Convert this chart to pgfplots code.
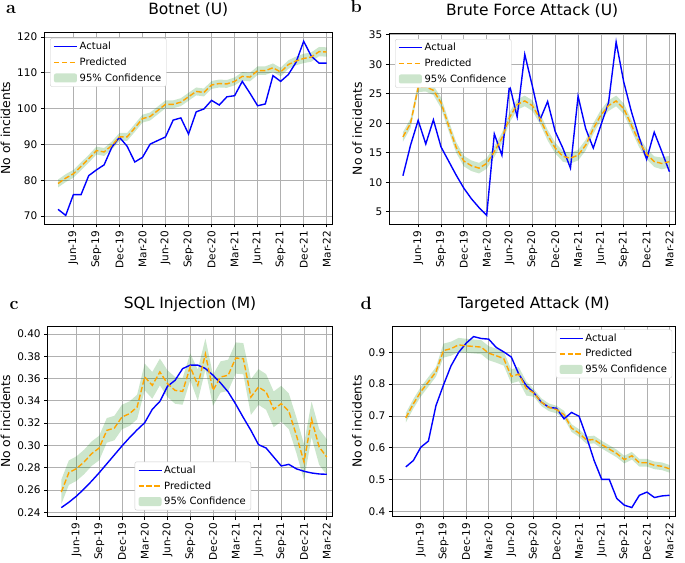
\documentclass[border=0pt]{standalone}
\usepackage{fontspec}
\setsansfont{DejaVu Sans}
\usepackage{pgfplots}
\usepackage{pgfplotstable}
\pgfplotsset{compat=1.18}
\usepgfplotslibrary{fillbetween}

\definecolor{mblue}{RGB}{0,0,255}
\definecolor{morange}{RGB}{255,165,0}
\definecolor{mgreen}{RGB}{0,128,0}
\definecolor{gridgray}{RGB}{176,176,176}
\definecolor{legendgray}{RGB}{204,204,204}

% columns: month index (0 = Apr-19), actual, predicted, half width of 95% band
\pgfplotstableread{
i act pred w
0 71.9 79.1 1.1
1 70.2 80.6 1.1
2 76.0 81.8 1.1
3 76.0 83.9 1.1
4 81.3 86.0 1.1
5 82.9 88.3 1.1
6 84.3 87.9 1.1
7 89.2 89.7 1.1
8 92.0 92.1 1.1
9 89.5 92.1 1.1
10 85.1 94.6 1.1
11 86.4 97.2 1.1
12 90.1 97.8 1.1
13 91.1 99.5 1.1
14 92.1 101.2 1.1
15 96.8 101.2 1.1
16 97.4 101.8 1.1
17 92.9 103.3 1.1
18 99.1 104.8 1.1
19 99.9 104.5 1.1
20 102.3 106.6 1.1
21 101.0 107.0 1.1
22 103.3 106.9 1.1
23 103.6 107.6 1.1
24 107.6 109.0 1.2
25 104.3 108.8 1.2
26 100.8 110.6 1.2
27 101.3 110.6 1.2
28 109.2 111.4 1.2
29 107.6 110.2 1.2
30 109.5 112.3 1.2
31 112.9 113.3 1.2
32 118.8 114.0 1.3
33 114.6 114.4 1.3
34 112.7 115.9 1.3
35 112.7 115.8 1.3
}\dataA

\pgfplotstableread{
i act pred w
0 11.1 17.7 0.8
1 16.3 20.0 0.8
2 20.5 26.1 0.8
3 16.5 26.2 0.8
4 20.6 25.6 0.8
5 16.0 23.5 0.9
6 13.6 19.6 0.9
7 11.2 15.9 0.9
8 9.0 13.6 0.9
9 7.2 12.8 0.9
10 5.7 12.4 0.9
11 4.4 13.2 0.9
12 18.2 15.2 0.9
13 14.6 17.5 0.9
14 26.5 21.0 0.9
15 21.1 23.2 0.9
16 31.7 23.8 0.9
17 26.3 23.0 0.9
18 20.6 20.8 0.9
19 23.7 18.0 0.9
20 18.6 15.8 0.9
21 15.8 14.4 0.9
22 12.4 14.1 0.9
23 24.6 14.6 0.9
24 19.1 16.3 0.9
25 15.8 19.1 0.9
26 19.7 21.4 0.9
27 23.5 23.0 0.9
28 33.8 23.8 0.9
29 27.0 22.5 0.9
30 22.0 19.7 0.9
31 17.7 16.9 0.9
32 13.9 14.8 0.9
33 18.5 13.5 0.9
34 15.2 13.2 1.0
35 11.8 13.5 1.0
}\dataB

\pgfplotstableread{
i act pred w
0 0.2442 0.2582 0.011
1 0.2490 0.2756 0.011
2 0.2545 0.2792 0.011
3 0.2610 0.2851 0.011
4 0.2680 0.2926 0.011
5 0.2755 0.2977 0.011
6 0.2835 0.3135 0.011
7 0.2915 0.3156 0.011
8 0.2995 0.3255 0.011
9 0.3070 0.3285 0.011
10 0.3140 0.3345 0.011
11 0.3204 0.3614 0.012
12 0.3324 0.3539 0.012
13 0.3395 0.3659 0.012
14 0.3530 0.3554 0.012
15 0.3584 0.3494 0.012
16 0.3689 0.3485 0.012
17 0.3720 0.3705 0.012
18 0.3720 0.3540 0.014
19 0.3690 0.3820 0.014
20 0.3630 0.3494 0.014
21 0.3560 0.3614 0.014
22 0.3480 0.3629 0.014
23 0.3370 0.3784 0.014
24 0.3250 0.3778 0.014
25 0.3135 0.3434 0.016
26 0.3007 0.3524 0.016
27 0.2977 0.3480 0.016
28 0.2896 0.3324 0.016
29 0.2816 0.3375 0.016
30 0.2830 0.3306 0.016
31 0.2790 0.3090 0.016
32 0.2768 0.2851 0.016
33 0.2753 0.3234 0.016
34 0.2744 0.2986 0.016
35 0.2741 0.2896 0.016
}\dataC

\pgfplotstableread{
i act pred w
0 0.540 0.694 0.015
1 0.560 0.738 0.015
2 0.602 0.776 0.015
3 0.621 0.807 0.015
4 0.732 0.838 0.015
5 0.797 0.905 0.022
6 0.857 0.911 0.022
7 0.899 0.923 0.022
8 0.928 0.920 0.022
9 0.949 0.918 0.022
10 0.943 0.916 0.022
11 0.941 0.897 0.022
12 0.915 0.889 0.022
13 0.901 0.880 0.022
14 0.885 0.824 0.022
15 0.831 0.831 0.022
16 0.795 0.786 0.022
17 0.773 0.772 0.012
18 0.743 0.743 0.012
19 0.727 0.727 0.012
20 0.724 0.720 0.012
21 0.691 0.704 0.012
22 0.711 0.662 0.012
23 0.699 0.646 0.012
24 0.633 0.624 0.012
25 0.560 0.626 0.012
26 0.501 0.610 0.012
27 0.501 0.596 0.012
28 0.441 0.582 0.012
29 0.420 0.563 0.012
30 0.4125 0.575 0.012
31 0.451 0.553 0.012
32 0.461 0.553 0.012
33 0.444 0.545 0.012
34 0.449 0.542 0.012
35 0.451 0.534 0.012
}\dataD

\pgfplotsset{
  panel/.style={
    scale only axis, anchor=south west,
    xmin=-1.79, xmax=35.73,
    xtick={2,5,...,35},
    xticklabels={Jun-19,Sep-19,Dec-19,Mar-20,Jun-20,Sep-20,Dec-20,Mar-21,Jun-21,Sep-21,Dec-21,Mar-22},
    x tick label style={rotate=90, anchor=east},
    tick label style={font=\sffamily\fontsize{10.5}{12}\selectfont},
    label style={font=\sffamily\fontsize{12.4}{14}\selectfont},
    ylabel={No of incidents},
    title style={font=\sffamily\fontsize{15.5}{18}\selectfont, at={(0.5,1)}, anchor=base, yshift=12pt},
    grid=major,
    major grid style={line width=0.8pt, color=gridgray},
    axis line style={line width=0.8pt},
    tick style={line width=0.8pt, black},
    tick align=outside, major tick length=3.5pt,
    xtick pos=left, ytick pos=left,
    /pgf/number format/assume math mode=true,
    legend cell align=left,
    legend style={font=\sffamily\fontsize{10}{12}\selectfont, draw=legendgray,
      rounded corners=2pt, fill=white, text opacity=1,
      inner xsep=3pt, inner ysep=2pt, row sep=2.5pt},
  },
  act/.style={color=mblue, line width=1.4pt, no markers},
  pre/.style={color=morange, line width=1.4pt, dash pattern=on 5.5pt off 2.4pt, no markers},
}

% explicit legend images: line for actual, dashed line for predicted, patch for the band
\newcommand{\legendentries}{%
  \addlegendimage{legend image code/.code={\draw[mblue, line width=1.4pt] (0pt,0pt) -- (23pt,0pt);}}
  \addlegendentry{Actual}
  \addlegendimage{legend image code/.code={\draw[morange, line width=1.4pt, dash pattern=on 5.5pt off 2.4pt] (0pt,0pt) -- (23pt,0pt);}}
  \addlegendentry{Predicted}
  \addlegendimage{legend image code/.code={\path[draw=none, fill=mgreen, fill opacity=0.2] (0pt,-4.5pt) rectangle (23pt,4.5pt);}}
  \addlegendentry{95\% Confidence}}

\begin{document}
\begin{tikzpicture}

% a
\begin{axis}[panel, at={(44.3pt,338pt)}, width=288pt, height=191.7pt,
  ymin=67.8, ymax=121.3, ytick={70,80,90,100,110,120},
  title={Botnet (U)},
  legend style={at={(0.02,0.97)}, anchor=north west}]
\addplot[draw=none, name path=hiA, forget plot] table[x=i, y expr=\thisrow{pred}+\thisrow{w}] {\dataA};
\addplot[draw=none, name path=loA, forget plot] table[x=i, y expr=\thisrow{pred}-\thisrow{w}] {\dataA};
\addplot[fill=mgreen, fill opacity=0.2, draw=none, forget plot] fill between[of=hiA and loA];
\addplot[act, forget plot] table[x=i, y=act] {\dataA};
\addplot[pre, forget plot] table[x=i, y=pred] {\dataA};
\legendentries
\end{axis}

% b
\begin{axis}[panel, at={(389.3pt,338pt)}, width=285.7pt, height=190.7pt,
  ymin=2.93, ymax=35.27, ytick={5,10,15,20,25,30,35},
  title={Brute Force Attack (U)},
  legend style={at={(0.02,0.97)}, anchor=north west}]
\addplot[draw=none, name path=hiB, forget plot] table[x=i, y expr=\thisrow{pred}+\thisrow{w}] {\dataB};
\addplot[draw=none, name path=loB, forget plot] table[x=i, y expr=\thisrow{pred}-\thisrow{w}] {\dataB};
\addplot[fill=mgreen, fill opacity=0.2, draw=none, forget plot] fill between[of=hiB and loB];
\addplot[act, forget plot] table[x=i, y=act] {\dataB};
\addplot[pre, forget plot] table[x=i, y=pred] {\dataB};
\legendentries
\end{axis}

% c
\begin{axis}[panel, at={(47.7pt,46pt)}, width=284.6pt, height=189.3pt,
  ymin=0.2367, ymax=0.4065,
  ytick={0.24,0.26,0.28,0.30,0.32,0.34,0.36,0.38,0.40},
  yticklabels={0.24,0.26,0.28,0.30,0.32,0.34,0.36,0.38,0.40},
  title={SQL Injection (M)},
  legend style={at={(0.51,0.03)}, anchor=south}]
\addplot[draw=none, name path=hiC, forget plot] table[x=i, y expr=\thisrow{pred}+\thisrow{w}] {\dataC};
\addplot[draw=none, name path=loC, forget plot] table[x=i, y expr=\thisrow{pred}-\thisrow{w}] {\dataC};
\addplot[fill=mgreen, fill opacity=0.2, draw=none, forget plot] fill between[of=hiC and loC];
\addplot[act, forget plot] table[x=i, y=act] {\dataC};
\addplot[pre, forget plot] table[x=i, y=pred] {\dataC};
\legendentries
\end{axis}

% d
\begin{axis}[panel, at={(392.3pt,46pt)}, width=282.7pt, height=189.3pt,
  ymin=0.386, ymax=0.98,
  ytick={0.4,0.5,0.6,0.7,0.8,0.9},
  yticklabels={0.4,0.5,0.6,0.7,0.8,0.9},
  title={Targeted Attack (M)},
  legend style={at={(0.99,0.985)}, anchor=north east}]
\addplot[draw=none, name path=hiD, forget plot] table[x=i, y expr=\thisrow{pred}+\thisrow{w}] {\dataD};
\addplot[draw=none, name path=loD, forget plot] table[x=i, y expr=\thisrow{pred}-\thisrow{w}] {\dataD};
\addplot[fill=mgreen, fill opacity=0.2, draw=none, forget plot] fill between[of=hiD and loD];
\addplot[act, forget plot] table[x=i, y=act] {\dataD};
\addplot[pre, forget plot] table[x=i, y=pred] {\dataD};
\legendentries
\end{axis}

\node[anchor=base west, font=\rmfamily\bfseries\fontsize{18}{20}\selectfont] at (2.5pt,548.7pt) {a};
\node[anchor=base west, font=\rmfamily\bfseries\fontsize{18}{20}\selectfont] at (347pt,549pt) {b};
\node[anchor=base west, font=\rmfamily\bfseries\fontsize{18}{20}\selectfont] at (6pt,252pt) {c};
\node[anchor=base west, font=\rmfamily\bfseries\fontsize{18}{20}\selectfont] at (357pt,252pt) {d};

\pgfresetboundingbox
\useasboundingbox (0,0) rectangle (685pt,562pt);
\end{tikzpicture}
\end{document}
